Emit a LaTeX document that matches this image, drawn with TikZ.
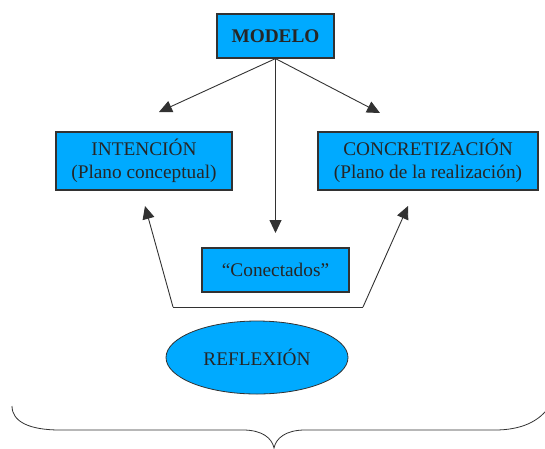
\documentclass[tikz,border=0pt]{standalone}
\usepackage{fontspec}
\setmainfont{Liberation Serif}
\usetikzlibrary{arrows.meta,shapes.geometric}
\definecolor{boxblue}{RGB}{0,170,255}
\definecolor{linegray}{RGB}{50,50,50}
\begin{document}
\begin{tikzpicture}[x=1pt,y=-1pt,
  bluebox/.style={draw=linegray,line width=1.2pt,fill=boxblue,inner sep=0pt,align=center,font=\fontsize{19.3}{22.5}\selectfont,text=black!85},
  arr/.style={draw=linegray,line width=0.9pt,-{Triangle[length=13pt,width=12pt]}},
  plain/.style={draw=linegray,line width=0.9pt}]
\useasboundingbox (0,0) rectangle (545,448);
\clip (0,0) rectangle (545,448);
\node[bluebox,minimum width=117pt,minimum height=44pt,font=\fontsize{19.3}{22}\selectfont\bfseries] (modelo) at (275.5,36) {MODELO};
\node[bluebox,minimum width=176pt,minimum height=58pt] (intencion) at (144,161) {INTENCIÓN\\(Plano conceptual)};
\node[bluebox,minimum width=220pt,minimum height=58pt] (concret) at (428,161) {CONCRETIZACIÓN\\(Plano de la realización)};
\node[bluebox,minimum width=147pt,minimum height=44pt] (conect) at (275.5,270) {“Conectados”};
\node[ellipse,draw=linegray,line width=0.8pt,fill=boxblue,minimum width=182pt,minimum height=73pt,inner sep=0pt,font=\fontsize{19.3}{22}\selectfont,text=black!85] (reflex) at (257,357.5) {REFLEXIÓN};
\coordinate (lt) at (159,112);
\coordinate (rt) at (380,113);
\coordinate (dt) at (275.5,233);
\draw[arr] (modelo.south) -- (lt);
\draw[arr] (modelo.south) -- (rt);
\draw[arr] (modelo.south) -- (dt);
\coordinate (bl) at (173,307);
\coordinate (br) at (363,307);
\coordinate (al) at (145,206);
\coordinate (ar) at (408,206);
\draw[arr] (bl) -- (al);
\draw[arr] (br) -- (ar);
\draw[plain] (bl) -- (br);
\coordinate (b1) at (12,406);
\coordinate (b2) at (60,430);
\coordinate (b3) at (243,430);
\coordinate (tip) at (274,448);
\coordinate (b4) at (305,430);
\coordinate (b5) at (495,430);
\coordinate (b6) at (550,405);
\draw[draw=linegray,line width=0.8pt] (b1) .. controls (12,422) and (30,430) .. (b2) -- (b3) .. controls (262,430) and (272,438) .. (tip) .. controls (276,438) and (286,430) .. (b4) -- (b5) .. controls (520,430) and (540,422) .. (b6);
\end{tikzpicture}
\end{document}
